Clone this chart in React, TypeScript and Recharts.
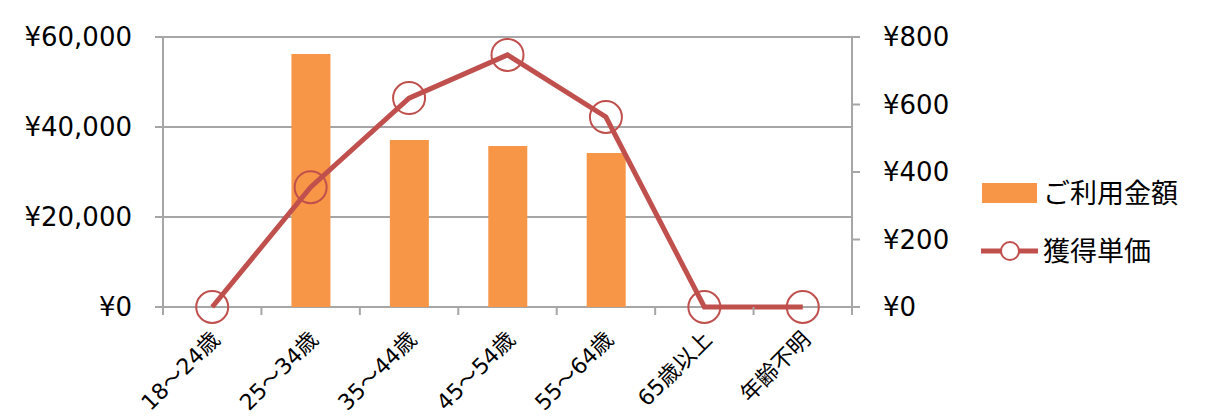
import { ComposedChart, Bar, Line, XAxis, YAxis, CartesianGrid } from "recharts";

const categories = ["18～24歳", "25～34歳", "35～44歳", "45～54歳", "55～64歳", "65歳以上", "年齢不明"];
const usageAmount = [0, 56200, 37100, 35800, 34200, 0, 0];
const unitPrice = [0, 355, 619, 747, 563, 0, 0];
const leftTicks = [0, 20000, 40000, 60000];
const rightTicks = [0, 200, 400, 600, 800];

const data = categories.map((name, i) => ({
  name,
  amount: usageAmount[i],
  price: unitPrice[i],
}));

const FONT = "'DejaVu Sans', 'Noto Sans CJK JP', sans-serif";
const AXIS = "#a6a6a6";
const ORANGE = "#f79646";
const RED = "#c0504d";

const yen = (v: number) => "¥" + v.toLocaleString("en-US");

function CategoryTick(props: any) {
  const { x, y, payload, index, visibleTicksCount } = props;
  const step = 689 / 7;
  const left = x - step / 2;
  const tx = x + 9;
  const ty = y + 26;
  return (
    <g>
      <line x1={left} y1={y - 8} x2={left} y2={y} stroke={AXIS} strokeWidth={2} />
      {index === visibleTicksCount - 1 && (
        <line x1={left + step} y1={y - 8} x2={left + step} y2={y} stroke={AXIS} strokeWidth={2} />
      )}
      <text
        x={tx}
        y={ty}
        transform={`rotate(-45, ${tx}, ${ty})`}
        textAnchor="end"
        fontSize={22}
        fontFamily={FONT}
        fill="#000"
      >
        {payload.value}
      </text>
    </g>
  );
}

function Ring(props: any) {
  const { cx, cy, index } = props;
  return <circle key={index} cx={cx} cy={cy} r={16} fill="none" stroke={RED} strokeWidth={2} />;
}

function LegendBox() {
  return (
    <div
      style={{
        position: "absolute",
        left: 982,
        top: 173,
        fontFamily: FONT,
        fontSize: 27,
        color: "#000",
        lineHeight: 1,
      }}
    >
      <div style={{ display: "flex", alignItems: "center", height: 40 }}>
        <div style={{ width: 55, height: 20, background: ORANGE, marginRight: 6 }} />
        <span>ご利用金額</span>
      </div>
      <div style={{ display: "flex", alignItems: "center", height: 40, marginTop: 18, marginLeft: -2 }}>
        <svg width={60} height={24} style={{ marginRight: 3 }}>
          <line x1={1} y1={12} x2={58} y2={12} stroke={RED} strokeWidth={5} />
          <circle cx={30} cy={12} r={9} fill="#fff" stroke={RED} strokeWidth={2} />
        </svg>
        <span>獲得単価</span>
      </div>
    </div>
  );
}

export default function App() {
  return (
    <div style={{ position: "absolute", left: 0, top: 0, width: 1212, height: 418, background: "#fff" }}>
      <ComposedChart
        width={1212}
        height={418}
        data={data}
        margin={{ top: 37, right: 250, left: 63, bottom: 0 }}
        barCategoryGap="30%"
      >
        <CartesianGrid vertical={false} stroke={AXIS} strokeWidth={2} yAxisId="left" />
        <XAxis
          dataKey="name"
          height={111}
          axisLine={false}
          tickLine={false}
          tick={<CategoryTick />}
          interval={0}
        />
        <YAxis
          yAxisId="left"
          orientation="left"
          width={100}
          domain={[0, 60000]}
          ticks={leftTicks}
          tickFormatter={yen}
          axisLine={{ stroke: AXIS, strokeWidth: 2 }}
          tickLine={{ stroke: AXIS, strokeWidth: 2 }}
          tickSize={8}
          tickMargin={23}
          tick={{ fontSize: 26, fill: "#000", fontFamily: FONT }}
        />
        <YAxis
          yAxisId="right"
          orientation="right"
          width={110}
          domain={[0, 800]}
          ticks={rightTicks}
          tickFormatter={yen}
          axisLine={{ stroke: AXIS, strokeWidth: 2 }}
          tickLine={{ stroke: AXIS, strokeWidth: 2 }}
          tickSize={8}
          tickMargin={23}
          tick={{ fontSize: 26, fill: "#000", fontFamily: FONT, textAnchor: "start" }}
        />
        <Bar yAxisId="left" dataKey="amount" fill={ORANGE} barSize={39} isAnimationActive={false} />
        <Line
          yAxisId="right"
          dataKey="price"
          stroke={RED}
          strokeWidth={5}
          dot={<Ring />}
          activeDot={false}
          isAnimationActive={false}
        />
      </ComposedChart>
      <LegendBox />
    </div>
  );
}
